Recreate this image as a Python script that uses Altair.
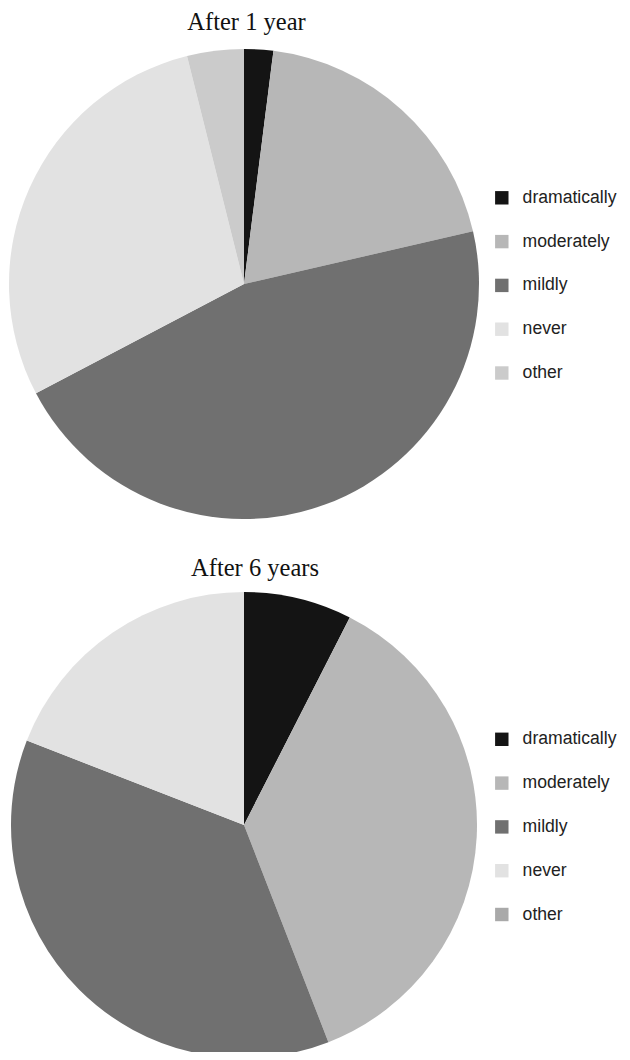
import altair as alt
import pandas as pd

categories = ["dramatically", "moderately", "mildly", "never", "other"]
values_1yr = [2.0, 19.4, 45.9, 28.8, 3.9]
values_6yr = [7.5, 36.6, 36.8, 19.1, 0.0]
colors_1yr = ["#141414", "#b7b7b7", "#707070", "#e2e2e2", "#cbcbcb"]
colors_6yr = ["#141414", "#b7b7b7", "#707070", "#e2e2e2", "#a9a9a9"]
titles = ["After 1 year", "After 6 years"]


def pie(values, colors, cx, cy, radius, legend_y):
    df = pd.DataFrame({
        "category": categories,
        "value": values,
        "order": list(range(len(categories))),
    })
    return alt.Chart(df).mark_arc(radius=radius, strokeWidth=0).encode(
        theta=alt.Theta("value:Q", stack=True),
        color=alt.Color(
            "category:N",
            scale=alt.Scale(domain=categories, range=colors),
            legend=alt.Legend(
                title=None, orient="none", legendX=485, legendY=legend_y,
                padding=0, symbolType="square", symbolSize=180, symbolStrokeWidth=0,
                labelFont="Liberation Sans", labelFontSize=17.6, labelColor="#222222",
                rowPadding=24.8, labelOffset=12,
            ),
        ),
        order=alt.Order("order:Q"),
        x=alt.value(cx),
        y=alt.value(cy),
    )


def title(text, cx, by):
    df = pd.DataFrame({"t": [text]})
    return alt.Chart(df).mark_text(
        font="Liberation Serif", fontSize=24.5, color="#111111",
        align="center", baseline="alphabetic",
    ).encode(text="t:N", x=alt.value(cx), y=alt.value(by))


chart = alt.layer(
    pie(values_1yr, colors_1yr, 236, 276, 235, 181),
    pie(values_6yr, colors_6yr, 236, 817, 233, 722.5),
    title(titles[0], 238.5, 21.7),
    title(titles[1], 247, 568),
).resolve_scale(color="independent").properties(
    width=614, height=1044, padding=0,
    autosize=alt.AutoSizeParams(type="none"),
).configure_view(stroke=None)

chart.save("out.html", embed_options={"renderer": "svg", "actions": False})
